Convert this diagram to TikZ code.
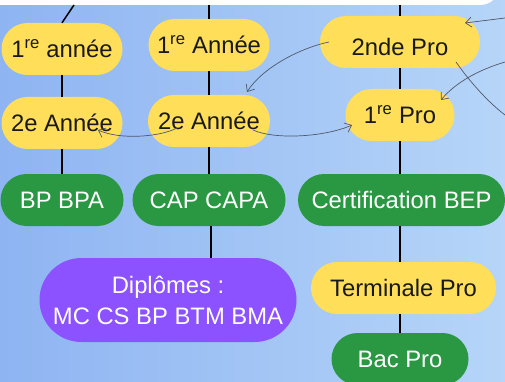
\documentclass[tikz,border=0pt]{standalone}
\usepackage{fontspec}
\setmainfont{Liberation Sans}
\usetikzlibrary{arrows.meta}
\definecolor{ylw}{RGB}{255,222,89}
\definecolor{grn}{RGB}{42,152,67}
\definecolor{prp}{RGB}{140,82,255}
\definecolor{bgl}{RGB}{142,180,242}
\definecolor{bgr}{RGB}{182,213,248}
\definecolor{arr}{RGB}{80,88,104}
\begin{document}
\begin{tikzpicture}[x=1pt,y=-1pt,
 pill/.style={rectangle, rounded corners=26pt, minimum height=52pt, inner sep=0pt, font=\fontsize{23.8}{28}\selectfont},
 yel/.style={pill, fill=ylw, text=black!90},
 grnbox/.style={pill, fill=grn, text=white},
 link/.style={line width=1.5pt, black},
 garrow/.style={arr, line width=0.7pt, -{Straight Barb[length=6pt,width=10pt]}},
 gline/.style={arr, line width=0.7pt}]
\useasboundingbox (0,0) rectangle (505,382);
\clip (0,0) rectangle (505,382);
\shade[left color=bgl, right color=bgr] (0,0) rectangle (505,382);
\fill[white, rounded corners=20pt] (-30,-40) rectangle (500,5);
% nodes
\node[yel, minimum width=121pt] (a1) at (62,49) {1\textsuperscript{re} année};
\node[yel, minimum width=121pt] (b1) at (209,45) {1\textsuperscript{re} Année};
\node[yel, minimum width=160pt, text height=27pt, text depth=0pt] (c1) at (400,42) {2nde Pro};
\node[yel, minimum width=121pt] (a2) at (62,123) {2e Année};
\node[yel, minimum width=122pt] (b2) at (209,121) {2e Année};
\node[yel, minimum width=109pt] (c2) at (400,115) {1\textsuperscript{re} Pro};
\node[grnbox, minimum width=123pt] (a3) at (62,200) {BP BPA};
\node[grnbox, minimum width=153pt] (b3) at (209,200) {CAP CAPA};
\node[grnbox, minimum width=207pt] (c3) at (401.5,200) {Certification BEP};
\node[pill, fill=prp, text=white, minimum width=257pt, minimum height=84pt, rounded corners=42pt, align=center, font=\fontsize{23.8}{31}\selectfont] (dip) at (168,300) {Diplômes :\\MC CS BP BTM BMA};
\node[yel, minimum width=185pt] (c4) at (403.5,288) {Terminale Pro};
\node[grnbox, minimum width=137pt] (c5) at (400,359) {Bac Pro};
% top coordinates
\coordinate (ta) at (74,5);
\coordinate (tb) at (209,5);
\coordinate (tc) at (400,5);
% black links
\draw[link] (ta) -- (a1.north);
\draw[link] (tb) -- (b1.north);
\draw[link] (tc) -- (c1.north);
\draw[link] (a1) -- (a2);
\draw[link] (a2) -- (a3);
\draw[link] (b1) -- (b2);
\draw[link] (b2) -- (b3);
\draw[link] (c1) -- (c2);
\draw[link] (c2) -- (c2 |- c3.north);
\draw[link] (c2 |- c3.south) -- (c2 |- c4.north);
\draw[link] (c2 |- c4.south) -- (c2 |- c5.north);
\draw[link] ([xshift=2pt]b3.south) -- ([xshift=2pt]b3.south |- dip.north);
% grey arrows
\coordinate (r1) at (505,18);
\coordinate (r3) at (505,115);
\coordinate (r4) at (505,62);
\draw[garrow] (r1) -- ([shift={(65,-19)}]c1.center);
\draw[garrow] ([shift={(-71,0)}]c1.center) .. controls (300,48) and (262,68) .. ([shift={(38,-29)}]b2.center);
\draw[gline] ([shift={(56,20)}]c1.center) .. controls (470,82) and (488,102) .. (r3);
\draw[garrow] (r4) .. controls (478,70) and (455,83) .. ([shift={(41,-15)}]c2.center);
\draw[garrow] ([shift={(-32,7)}]b2.center) .. controls (160,137) and (120,140) .. ([shift={(36,7)}]a2.center);
\draw[garrow] ([shift={(44,9)}]b2.center) .. controls (275,140) and (325,137) .. ([shift={(-48,10)}]c2.center);
\end{tikzpicture}
\end{document}
